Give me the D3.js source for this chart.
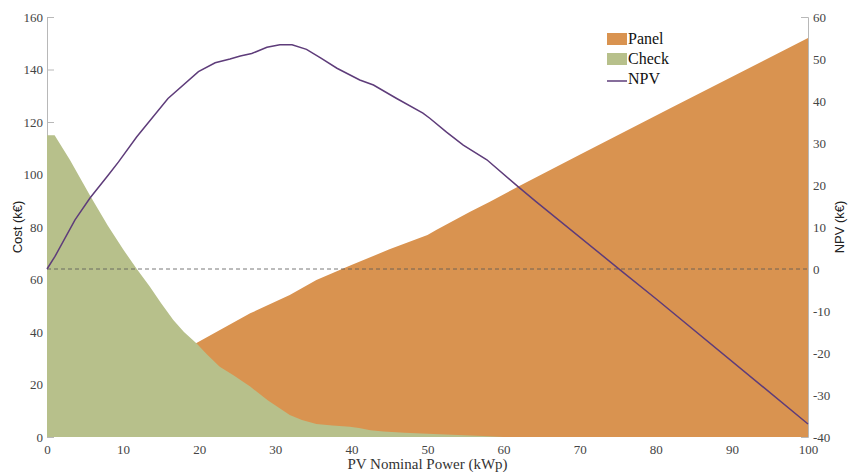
<!DOCTYPE html>
<html>
<head>
<meta charset="utf-8">
<script src="https://cdn.jsdelivr.net/npm/d3@7"></script>
<style>
  body { margin: 0; background: #fff; }
  svg { display: block; }
</style>
</head>
<body>
<svg id="chart" width="848" height="472"></svg>
<script>
// ---- Data ----
const xTicks = [0, 10, 20, 30, 40, 50, 60, 70, 80, 90, 100];
const costTicks = [0, 20, 40, 60, 80, 100, 120, 140, 160];
const npvTicks = [-40, -30, -20, -10, 0, 10, 20, 30, 40, 50, 60];

const panelX   = [0, 19.7, 26.7, 31.9, 35.4, 40, 45, 50, 51.2, 55.6, 58.2, 62, 70, 81.9, 100];
const panelVal = [6, 35.9, 47.1, 54.1, 59.8, 65.5, 71.5, 77, 79, 85.8, 89.6, 95.5, 107.5, 125.2, 152];

const checkX   = [0, 1, 3, 5.65, 8, 10, 11.8, 13.5, 15, 16.6, 18, 19.7, 21, 22.7, 24.5, 26.7, 29, 31.9, 33.5, 35.4, 37.5, 39.8, 41, 42.5, 44.2, 47, 50.8, 54, 57.3, 60, 100];
const checkVal = [115, 115, 105.6, 92, 80.5, 71.5, 64, 57.3, 51, 44.6, 40, 35.5, 31.5, 26.8, 23.5, 19.2, 14, 8.4, 6.5, 5, 4.4, 3.9, 3.4, 2.6, 2.1, 1.6, 1.1, 0.8, 0.4, 0, 0];

const npvX   = [0, 1.05, 3.68, 5.65, 8.06, 9.4, 11.8, 15.9, 19.9, 22.1, 24.05, 25.4, 26.9, 28.9, 30.6, 32.2, 34.1, 36, 38.1, 41.1, 42.9, 45.95, 49.4, 50.3, 52.5, 54.7, 57.8, 61.9, 64.3, 75.3, 80.1, 100];
const npvVal = [0, 3.0, 11.7, 16.9, 22.4, 25.5, 31.5, 40.6, 47.0, 49.1, 50.0, 50.7, 51.3, 52.8, 53.4, 53.4, 52.3, 50.2, 47.8, 45.0, 43.8, 40.6, 37.1, 35.9, 32.6, 29.5, 26.0, 19.6, 16.0, -0.2, -7.2, -36.9];

const seriesNames = ["Panel", "Check", "NPV"];
const colors = { Panel: "#d99350", Check: "#b7c08b", NPV: "#5e3c7a" };

// ---- Layout ----
const W = 848, H = 472;
const m = { left: 47, right: 40, top: 17, bottom: 35 };
const svg = d3.select("#chart");
const x = d3.scaleLinear().domain([0, 100]).range([m.left, W - m.right]);
const yL = d3.scaleLinear().domain([0, 160]).range([H - m.bottom, m.top]);
const yR = d3.scaleLinear().domain([-40, 60]).range([H - m.bottom, m.top]);

const serif = "'Liberation Serif', 'DejaVu Serif', serif";
const sans = "'Liberation Sans', Arial, sans-serif";
const fmt = d => String(d);

// axis lines (under areas)
const axL = svg.append("g").attr("transform", `translate(${m.left},0)`)
  .call(d3.axisLeft(yL).tickValues(costTicks).tickSize(-7).tickPadding(4).tickFormat(fmt));
const axR = svg.append("g").attr("transform", `translate(${W - m.right},0)`)
  .call(d3.axisRight(yR).tickValues(npvTicks).tickSize(-7).tickPadding(5).tickFormat(fmt));
[axL, axR].forEach(g => {
  g.selectAll(".domain").attr("stroke", "#b8b8b8").attr("stroke-width", 1);
  g.selectAll(".tick line").attr("stroke", "#b8b8b8");
  g.selectAll(".tick text").attr("font-family", serif).attr("font-size", 13).attr("fill", "#444");
});

// areas
const panelData = panelX.map((d, i) => [d, panelVal[i]]);
const checkData = checkX.map((d, i) => [d, checkVal[i]]);
const npvData = npvX.map((d, i) => [d, npvVal[i]]);

const area = d3.area().x(d => x(d[0])).y0(yL(0)).y1(d => yL(d[1]));
svg.append("path").datum(panelData).attr("d", area).attr("fill", colors.Panel);
svg.append("path").datum(checkData).attr("d", area).attr("fill", colors.Check);

// zero dashed line
svg.append("line")
  .attr("x1", x(0)).attr("x2", x(100)).attr("y1", yR(0)).attr("y2", yR(0))
  .attr("stroke", "#555").attr("stroke-width", 0.8).attr("stroke-dasharray", "4,3");

// NPV line
svg.append("path").datum(npvData)
  .attr("d", d3.line().x(d => x(d[0])).y(d => yR(d[1])))
  .attr("fill", "none").attr("stroke", colors.NPV).attr("stroke-width", 1.5);

// bottom axis (labels only)
const axB = svg.append("g").attr("transform", `translate(0,${H - m.bottom})`)
  .call(d3.axisBottom(x).tickValues(xTicks).tickSize(0).tickPadding(8).tickFormat(fmt));
axB.select(".domain").remove();
axB.selectAll(".tick text").attr("font-family", serif).attr("font-size", 13).attr("fill", "#444");

// axis titles
svg.append("text").attr("x", x(50)).attr("y", 469).attr("text-anchor", "middle")
  .attr("font-family", serif).attr("font-size", 15).attr("fill", "#333").text("PV Nominal Power (kWp)");
svg.append("text").attr("transform", `translate(22,${(m.top + H - m.bottom) / 2}) rotate(-90)`)
  .attr("text-anchor", "middle").attr("font-family", sans).attr("font-size", 13).attr("fill", "#222").text("Cost (k€)");
svg.append("text").attr("transform", `translate(844,${(m.top + H - m.bottom) / 2}) rotate(-90)`)
  .attr("text-anchor", "middle").attr("font-family", sans).attr("font-size", 13).attr("fill", "#222").text("NPV (k€)");

// legend
const lg = svg.append("g").attr("transform", "translate(607,33)");
seriesNames.forEach((name, i) => {
  const g = lg.append("g").attr("transform", `translate(0,${i * 20})`);
  if (name === "NPV") {
    g.append("line").attr("x1", 0).attr("x2", 20).attr("y1", 8).attr("y2", 8)
      .attr("stroke", colors.NPV).attr("stroke-width", 1.5);
  } else {
    g.append("rect").attr("width", 20).attr("height", 12).attr("fill", colors[name]);
  }
  g.append("text").attr("x", 21).attr("y", 11).attr("font-family", serif).attr("font-size", 16)
    .attr("fill", "#111").text(name);
});
</script>
</body>
</html>
